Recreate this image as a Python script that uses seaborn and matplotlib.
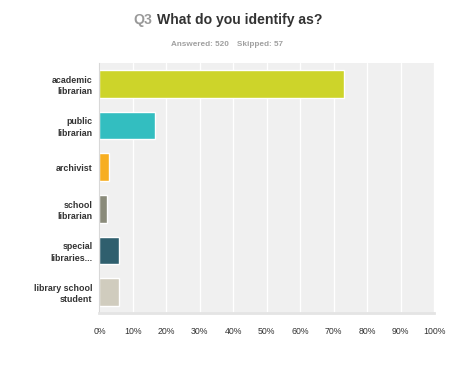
import matplotlib
matplotlib.use("Agg")
import matplotlib.pyplot as plt
import seaborn as sns
import pandas as pd

categories = ["academic\nlibrarian", "public\nlibrarian", "archivist",
              "school\nlibrarian", "special\nlibraries...", "library school\nstudent"]
percent = [73.08, 16.54, 2.88, 2.31, 5.96, 5.77]
colors = ["#cdd42a", "#33bec0", "#f7ae20", "#8a8b7a", "#2f5f6e", "#d0ccbe"]
xticks = [0, 10, 20, 30, 40, 50, 60, 70, 80, 90, 100]
xtick_labels = [f"{t}%" for t in xticks]

df = pd.DataFrame({"category": categories, "percent": percent})

sns.set_style("white")
plt.rcParams["font.family"] = ["Liberation Sans", "DejaVu Sans"]

fig = plt.figure(figsize=(4.54, 3.65), dpi=100)
ax = fig.add_axes([0.219, 0.1425, 0.737, 0.685])
ax.set_facecolor("#f0f0f0")

sns.barplot(data=df, x="percent", y="category", hue="category",
            palette=colors, legend=False, width=0.66, saturation=1, ax=ax)

ax.set_xlim(0, 100)
ax.set_ylim(5.5, -0.5)
ax.set_xticks(xticks)
ax.set_xticklabels(xtick_labels, fontsize=6.3, color="#333333")
ax.tick_params(axis="x", length=0, pad=10)
ax.tick_params(axis="y", length=0, pad=5)
for lab in ax.get_yticklabels():
    lab.set_fontsize(6.4)
    lab.set_fontweight("bold")
    lab.set_color("#333333")
    lab.set_linespacing(1.3)
ax.grid(axis="x", color="white", linewidth=1)
ax.set_axisbelow(True)
ax.set_xlabel("")
ax.set_ylabel("")
for side in ["top", "right"]:
    ax.spines[side].set_visible(False)
ax.spines["left"].set_color("#d8d8d8")
ax.spines["bottom"].set_color("#e4e4e4")
ax.spines["bottom"].set_linewidth(2)

fig.text(0.293, 0.945, "Q3", fontsize=10.1, fontweight="bold", color="#999999", va="center")
fig.text(0.346, 0.945, "What do you identify as?", fontsize=10.1, fontweight="bold",
         color="#333333", va="center")
fig.text(0.377, 0.878, "Answered: 520", fontsize=5.9, fontweight="bold", color="#a0a0a0", va="center")
fig.text(0.522, 0.878, "Skipped: 57", fontsize=5.9, fontweight="bold", color="#a0a0a0", va="center")

fig.savefig("out.png", dpi=100, facecolor="white")
